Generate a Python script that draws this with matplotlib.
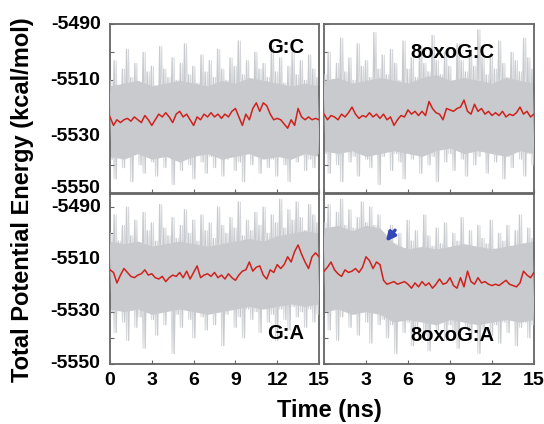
import numpy as np
import matplotlib
matplotlib.use('Agg')
from matplotlib import pyplot as plt

plt.rcParams['font.family'] = ['Liberation Sans', 'DejaVu Sans']
plt.rcParams['font.weight'] = 'bold'

# Panel names
labels = ['G:C', '8oxoG:C', 'G:A', '8oxoG:A']

# Raw trace: alternating high / low excursions (kcal/mol)
gc_hi = [-5510, -5503, -5512, -5506, -5499, -5509, -5504, -5511, -5500, -5507, -5505, -5512, -5498, -5506, -5509, -5502, -5510,
         -5504, -5497, -5508, -5505, -5511, -5501, -5507, -5503, -5509, -5499, -5506, -5510, -5502, -5505, -5496, -5508, -5503,
         -5510, -5500, -5506, -5504, -5509, -5498, -5507, -5502, -5511, -5505, -5500, -5508, -5503, -5510, -5501, -5506, -5509]
gc_lo = [-5538, -5545, -5535, -5541, -5537, -5546, -5536, -5540, -5543, -5534, -5539, -5544, -5537, -5541, -5535, -5547, -5538,
         -5542, -5536, -5540, -5545, -5534, -5539, -5543, -5537, -5541, -5536, -5544, -5538, -5535, -5542, -5539, -5546, -5536,
         -5540, -5537, -5543, -5535, -5541, -5538, -5544, -5536, -5540, -5546, -5537, -5539, -5535, -5542, -5538, -5541, -5536]
oc_hi = [-5508, -5500, -5511, -5504, -5495, -5507, -5502, -5510, -5497, -5505, -5503, -5509, -5493, -5506, -5501, -5508, -5499,
         -5504, -5510, -5496, -5506, -5502, -5509, -5498, -5504, -5507, -5494, -5503, -5508, -5500, -5505, -5511, -5497, -5503,
         -5507, -5499, -5505, -5492, -5502, -5508, -5501, -5506, -5496, -5504, -5509, -5500, -5503, -5507, -5495, -5502, -5506]
oc_lo = [-5536, -5543, -5534, -5540, -5546, -5535, -5539, -5537, -5544, -5533, -5538, -5541, -5535, -5547, -5537, -5534, -5542,
         -5536, -5539, -5545, -5534, -5538, -5536, -5543, -5535, -5540, -5537, -5546, -5534, -5539, -5536, -5542, -5535, -5538,
         -5544, -5534, -5540, -5537, -5535, -5543, -5536, -5539, -5534, -5545, -5537, -5541, -5535, -5538, -5544, -5536, -5540]
ga_hi = [-5500, -5493, -5503, -5497, -5490, -5501, -5495, -5504, -5492, -5499, -5496, -5503, -5489, -5498, -5501, -5494, -5502,
         -5497, -5491, -5500, -5495, -5503, -5493, -5499, -5496, -5502, -5490, -5497, -5500, -5494, -5498, -5488, -5501, -5495,
         -5499, -5492, -5497, -5490, -5500, -5493, -5496, -5487, -5498, -5491, -5495, -5488, -5494, -5499, -5489, -5493, -5496]
ga_lo = [-5530, -5538, -5528, -5534, -5541, -5529, -5536, -5532, -5544, -5528, -5533, -5539, -5530, -5535, -5528, -5546, -5531,
         -5536, -5529, -5533, -5540, -5528, -5532, -5537, -5530, -5535, -5529, -5543, -5531, -5528, -5536, -5532, -5540, -5529,
         -5533, -5530, -5538, -5528, -5534, -5531, -5541, -5529, -5533, -5537, -5528, -5532, -5530, -5536, -5529, -5534, -5531]
oa_hi = [-5496, -5489, -5499, -5492, -5487, -5497, -5491, -5498, -5494, -5488, -5496, -5490, -5497, -5493, -5502, -5507, -5497,
         -5504, -5500, -5506, -5495, -5503, -5499, -5507, -5493, -5501, -5505, -5498, -5504, -5496, -5506, -5500, -5503, -5494,
         -5505, -5499, -5507, -5497, -5502, -5504, -5495, -5506, -5500, -5503, -5497, -5505, -5499, -5493, -5504, -5498, -5502]
oa_lo = [-5530, -5537, -5528, -5541, -5532, -5529, -5536, -5531, -5539, -5528, -5534, -5542, -5530, -5535, -5533, -5540, -5535,
         -5546, -5533, -5538, -5534, -5543, -5536, -5532, -5539, -5545, -5534, -5537, -5533, -5541, -5535, -5538, -5544, -5532,
         -5536, -5540, -5534, -5546, -5537, -5533, -5539, -5535, -5542, -5534, -5538, -5532, -5543, -5536, -5534, -5540, -5535]

# Dense part of the grey band (top / bottom edge), every 1 ns
gc_core_top = [-5512, -5511, -5510, -5512, -5511, -5510, -5511, -5512, -5510, -5511, -5509, -5510, -5511, -5512, -5511, -5512]
gc_core_bot = [-5537, -5538, -5536, -5538, -5537, -5539, -5537, -5536, -5538, -5537, -5536, -5538, -5537, -5538, -5536, -5537]
oc_core_top = [-5510, -5509, -5511, -5510, -5509, -5510, -5511, -5509, -5508, -5510, -5509, -5510, -5511, -5509, -5510, -5511]
oc_core_bot = [-5535, -5536, -5535, -5537, -5536, -5535, -5536, -5537, -5535, -5534, -5536, -5535, -5536, -5537, -5535, -5536]
ga_core_top = [-5503, -5504, -5503, -5505, -5504, -5503, -5504, -5505, -5504, -5503, -5502, -5503, -5501, -5500, -5499, -5500]
ga_core_bot = [-5529, -5530, -5529, -5531, -5530, -5529, -5530, -5531, -5530, -5529, -5528, -5529, -5528, -5527, -5528, -5527]
oa_core_top = [-5498, -5497, -5499, -5497, -5498, -5504, -5506, -5505, -5506, -5505, -5504, -5505, -5506, -5505, -5504, -5503]
oa_core_bot = [-5530, -5529, -5531, -5530, -5531, -5534, -5533, -5534, -5535, -5533, -5534, -5535, -5534, -5533, -5534, -5533]

# Running average (red), every 0.25 ns
gc_avg = [-5523, -5526, -5524, -5525, -5524, -5523.5, -5524.5, -5523, -5524, -5525, -5522.5, -5524, -5526, -5524, -5522, -5523,
          -5521.5, -5523, -5525, -5522, -5521, -5523, -5522, -5524, -5526, -5523, -5524, -5522, -5523, -5521.5, -5523, -5522,
          -5523.5, -5522, -5523, -5521, -5520, -5523, -5526, -5522, -5524, -5520, -5518, -5521, -5518, -5519, -5522, -5524,
          -5523.5, -5524, -5525.5, -5527, -5524, -5526, -5520, -5523, -5524, -5523, -5524, -5523.5, -5524]
oc_avg = [-5522, -5524, -5522.5, -5523, -5524, -5522, -5523, -5521.5, -5519.5, -5522, -5523.5, -5522.5, -5523, -5521.5, -5523,
          -5522, -5523.5, -5522, -5524, -5523, -5526, -5524, -5522.5, -5523, -5520.5, -5522, -5521, -5522.5, -5521, -5522.5,
          -5517.5, -5520, -5521.5, -5522, -5524, -5520, -5520.5, -5521, -5520, -5519.5, -5517, -5521, -5522, -5518.5, -5521,
          -5520, -5522, -5521, -5522.5, -5521.5, -5522.5, -5521, -5523, -5522, -5522.5, -5521.5, -5519.5, -5522, -5521, -5523, -5522]
ga_avg = [-5514, -5515, -5519, -5516, -5513.5, -5515, -5516.5, -5517, -5516, -5515.5, -5514, -5516, -5515.5, -5517, -5517.5,
          -5516.5, -5518.5, -5517, -5516, -5516.5, -5515, -5517, -5514.5, -5517.5, -5515, -5512.5, -5517, -5516, -5515.5,
          -5516.5, -5515, -5517, -5516, -5517.5, -5515.5, -5517, -5518, -5516, -5514.5, -5514, -5511, -5514.5, -5513, -5512.5,
          -5516, -5517.5, -5514, -5515, -5512, -5513.5, -5512, -5509, -5511, -5507, -5504.5, -5508, -5511, -5513.5, -5509,
          -5507.5, -5509]
oa_avg = [-5514.5, -5513, -5511, -5514, -5515.5, -5516.5, -5514, -5515, -5514.5, -5513.5, -5515, -5513, -5509, -5510.5, -5513.5,
          -5511, -5512, -5518, -5519.5, -5519, -5518.5, -5519.5, -5519, -5518.5, -5519.5, -5521, -5519, -5520.5, -5518.5, -5520,
          -5519, -5521, -5519.5, -5517.5, -5519.5, -5519, -5517, -5520, -5521, -5517, -5520.5, -5514.5, -5518.5, -5519.5, -5517,
          -5519, -5518.5, -5519.5, -5520, -5519.5, -5520, -5519, -5518, -5519.5, -5520, -5520.5, -5519, -5514.5, -5516, -5517, -5515]

highs = [gc_hi, oc_hi, ga_hi, oa_hi]
lows = [gc_lo, oc_lo, ga_lo, oa_lo]
core_tops = [gc_core_top, oc_core_top, ga_core_top, oa_core_top]
core_bots = [gc_core_bot, oc_core_bot, ga_core_bot, oa_core_bot]
avgs = [gc_avg, oc_avg, ga_avg, oa_avg]

# Figure layout (pixel-matched to 544x424)
fig = plt.figure(figsize=(5.44, 4.24), dpi=100)
W, H = 544.0, 424.0
boxes = [(110, 24, 319, 193), (324, 24, 534, 193), (110, 194, 319, 364), (324, 194, 534, 364)]
ylims = [(-5550, -5490), (-5550, -5490), (-5550, -5485), (-5550, -5485)]
label_pos = [(0.84, 0.86), (0.61, 0.83), (0.84, 0.18), (0.61, 0.17)]

for i in range(4):
    x0, y0, x1, y1 = boxes[i]
    ax = fig.add_axes([x0 / W, 1 - y1 / H, (x1 - x0) / W, (y1 - y0) / H])

    # thin grey spikes of the raw trace (both phases, for a denser fringe)
    n = min(len(highs[i]), len(lows[i]))
    t_raw = np.linspace(0, 15, 2 * n)
    trace = np.empty(2 * n)
    trace[0::2] = highs[i][:n]
    trace[1::2] = lows[i][:n]
    trace2 = np.empty(2 * n)
    trace2[0::2] = lows[i][:n]
    trace2[1::2] = highs[i][:n]
    ax.plot(t_raw, trace2, color='#d4d7db', lw=0.7, zorder=1)

    # dense grey core
    t_core = np.linspace(0, 15, len(core_tops[i]))
    ax.fill_between(t_core, core_tops[i], core_bots[i], color='#c8cacd', lw=0, zorder=2)
    ax.plot(t_raw, trace, color='#c8cacd', lw=0.9, zorder=3)

    t_avg = np.linspace(0, 15, len(avgs[i]))
    ax.plot(t_avg, avgs[i], color='#d0211c', lw=1.1, zorder=4)

    ax.set_xlim(0, 15)
    ax.set_ylim(*ylims[i])
    ax.text(label_pos[i][0], label_pos[i][1], labels[i], transform=ax.transAxes,
            ha='center', va='center', fontsize=14.5, fontweight='bold', zorder=5)

    for s in ax.spines.values():
        s.set_color('#666666')
        s.set_linewidth(1.3)

    ax.set_yticks([-5550, -5540, -5530, -5520, -5510, -5500, -5490])
    ax.set_xticks([0, 3, 6, 9, 12, 15])
    ax.tick_params(direction='in', length=3, color='#666666', labelsize=14, pad=6)
    ax.set_yticklabels([])
    if i % 2 == 0:
        # y labels placed by hand so the two panels' end labels don't collide
        for v in [-5550, -5530, -5510, -5490]:
            yv = v
            if i == 0 and v == -5550:
                yv = -5548.3
            ax.text(-0.045, yv, str(v), transform=ax.get_yaxis_transform(),
                    ha='right', va='center', fontsize=14, fontweight='bold')
    if i < 2:
        ax.set_xticklabels([])
    elif i == 2:
        ax.set_xticklabels(['0', '3', '6', '9', '12', '15'])
    else:
        ax.set_xticklabels(['', '3', '6', '9', '12', '15'])
    for lab in ax.get_xticklabels():
        lab.set_fontweight('bold')

    if i == 3:
        ax.annotate('', xy=(4.3, -5504), xytext=(5.2, -5498),
                    arrowprops=dict(arrowstyle='-|>', color='#3347b8', lw=2.4, mutation_scale=13),
                    zorder=6)

fig.text(0.042, 0.528, 'Total Potential Energy (kcal/mol)', rotation=90,
         ha='center', va='center', fontsize=17, fontweight='bold')
fig.text(0.606, 0.033, 'Time (ns)', ha='center', va='center', fontsize=17, fontweight='bold')

fig.savefig('out.png', dpi=100)
